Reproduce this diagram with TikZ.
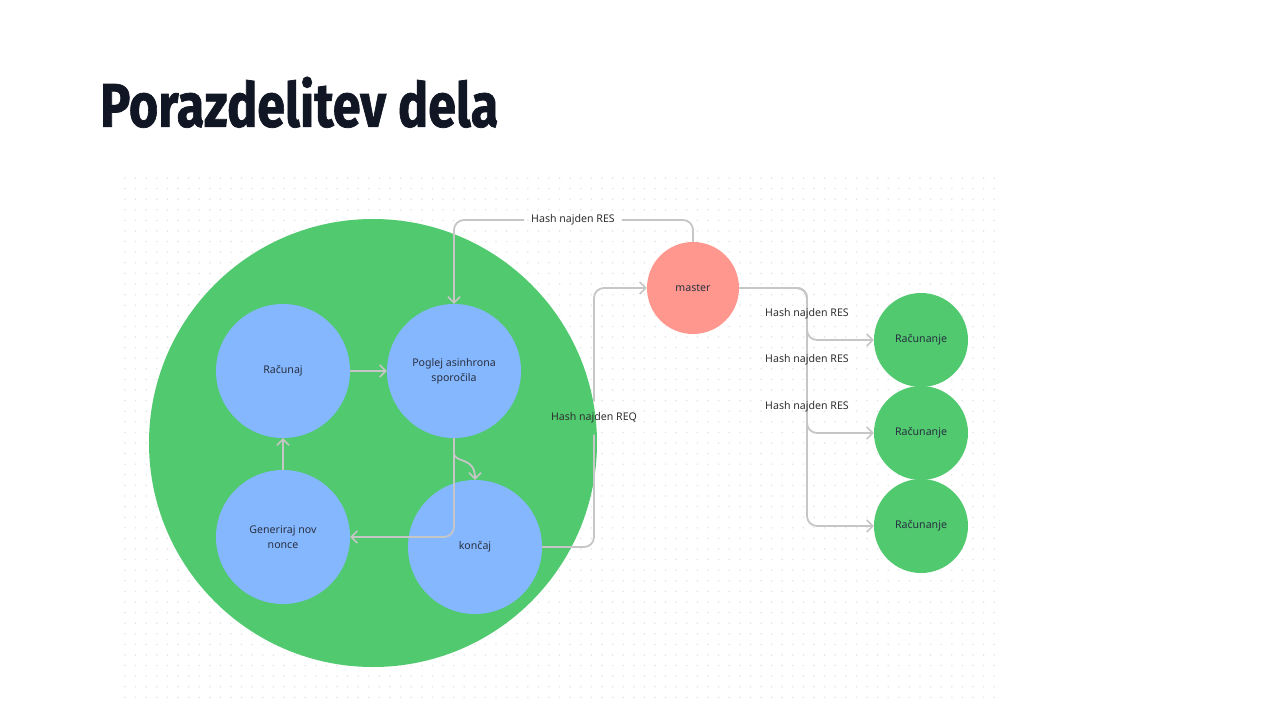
\documentclass[tikz,border=0pt]{standalone}
\usepackage{fontspec}
\setmainfont{Noto Sans}
\newfontfamily\titlefont[BoldFeatures={FakeBold=1.2}]{Fira Sans}
\usetikzlibrary{arrows.meta}
\definecolor{bggreen}{HTML}{50C96F}
\definecolor{nodeblue}{HTML}{85B7FF}
\definecolor{salmon}{HTML}{FF978F}
\definecolor{linegray}{HTML}{C6C6C6}
\definecolor{dotgray}{HTML}{E6E6E6}
\definecolor{titlecol}{HTML}{111624}
\definecolor{txtcol}{HTML}{283040}
\definecolor{labcol}{HTML}{303030}
\tikzset{
  circnode/.style={circle, inner sep=0pt, text=txtcol, align=center, font=\fontsize{10.6}{15.5}\selectfont},
  bluenode/.style={circnode, fill=nodeblue, minimum size=134pt},
  greennode/.style={circnode, fill=bggreen, minimum size=94pt},
  masternode/.style={circnode, fill=salmon, minimum size=92pt},
  conn/.style={draw=linegray, line width=1.8pt, rounded corners=10pt},
  arr/.style={-{Straight Barb[length=6pt,width=12pt,line width=1.6pt]}},
  lab/.style={text=labcol, font=\fontsize{10.6}{12}\selectfont, inner sep=0pt},
  gaplab/.style={lab, inner xsep=7pt, inner ysep=11pt}
}
\begin{document}
\begin{tikzpicture}[x=1pt,y=-1pt]
\useasboundingbox (0,0) rectangle (1280,720);
\fill[white] (0,0) rectangle (1280,720);
% dot grid
\foreach \i in {0,...,82}{
  \foreach \j in {0,...,49}{
    \fill[dotgray] (125+\i*10.6,178+\j*10.6) circle (0.9);
  }
}
% title
\node[anchor=south west, inner sep=0pt, text=titlecol] (title) at (100,128)
  {\resizebox{398pt}{50pt}{\titlefont\bfseries Porazdelitev dela}};
% big green circle
\node[circle, fill=bggreen, minimum size=448pt, inner sep=0pt] (big) at (373,443) {};
% inner nodes
\node[bluenode] (rac) at (283,371) {Računaj};
\node[bluenode] (pog) at (454,371) {Poglej asinhrona\\sporočila};
\node[bluenode] (gen) at (283,537) {Generiraj nov\\nonce};
\node[bluenode] (kon) at (475,547) {končaj};
% master
\node[masternode] (master) at (693,288) {master};
% workers
\node[greennode] (w1) at (921,340) {Računanje};
\node[greennode] (w2) at (921,433) {Računanje};
\node[greennode] (w3) at (921,526) {Računanje};
% labels with gaps
\node[gaplab] (reslab) at (573,220) {Hash najden RES};
\node[gaplab] (reqlab) at (594,418) {Hash najden REQ};
% inner connectors
\draw[conn,arr] (rac.east) -- (pog.west);
\draw[conn,arr] (gen.north) -- (rac.south);
\draw[conn,arr,rounded corners=0pt] (pog.south) -- ++(0,16) .. controls (456,463) and (475,457) .. (kon.north);
\draw[conn,arr] (pog.south) |- (gen.east);
% to master
\draw[conn,arr] (kon.east) -| (reqlab.south) (reqlab.north) |- (master.west);
% master back to poglej
\draw[conn,arr] (master.north) |- (reslab.east) (reslab.west) -| (pog.north);
% master to workers
\draw[conn,arr] (master.east) -| (807,340) -- (w1.west);
\draw[conn,arr] (master.east) -| (807,433) -- (w2.west);
\draw[conn,arr] (master.east) -| (807,526) -- (w3.west);
\node[lab] (l1) at (807,314) {Hash najden RES};
\node[lab] (l2) at (807,360) {Hash najden RES};
\node[lab] (l3) at (807,407) {Hash najden RES};
\end{tikzpicture}
\end{document}
